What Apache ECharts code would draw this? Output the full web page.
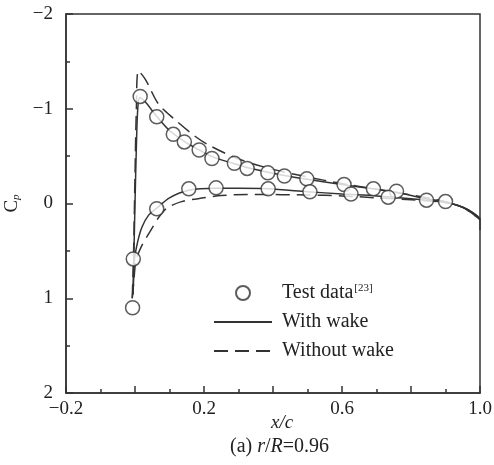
<!DOCTYPE html>
<html>
<head>
    <meta charset="UTF-8">
    <title>Cp distribution r/R=0.96</title>
    <script src="https://cdn.jsdelivr.net/npm/echarts@6/dist/echarts.min.js"></script>
    <style>
        body { margin: 0; background: #fff; }
        #chart { width: 494px; height: 465px; }
    </style>
</head>
<body>
    <div id="chart"></div>
    <script type="text/javascript">
        // test data, [x/c, Cp]
        var testUpper = [
            [0.015, -1.13], [0.063, -0.915], [0.111, -0.73], [0.143, -0.65], [0.186, -0.565],
            [0.223, -0.475], [0.288, -0.425], [0.325, -0.37], [0.385, -0.325], [0.433, -0.29],
            [0.498, -0.26], [0.606, -0.2], [0.691, -0.155], [0.758, -0.13], [0.845, -0.035], [0.9, -0.02]
        ];
        var testLower = [
            [-0.007, 1.1], [-0.005, 0.585], [0.063, 0.055], [0.156, -0.155], [0.235, -0.165],
            [0.386, -0.155], [0.507, -0.123], [0.626, -0.1], [0.734, -0.067]
        ];

        // computed, with wake
        var wakeUpper = [
            [-0.006, 0.96], [-0.003, 0.5], [0.0, 0.0], [0.004, -0.6], [0.008, -1.0], [0.014, -1.12],
            [0.03, -1.07], [0.063, -0.92], [0.1, -0.77], [0.143, -0.655], [0.186, -0.565],
            [0.223, -0.495], [0.288, -0.42], [0.325, -0.38], [0.385, -0.33], [0.433, -0.295],
            [0.5, -0.255], [0.6, -0.2], [0.69, -0.155], [0.76, -0.115], [0.845, -0.05], [0.9, -0.015],
            [0.95, 0.04], [0.98, 0.1], [1.0, 0.17], [1.0, 0.28]
        ];
        var wakeLower = [
            [-0.006, 0.96], [-0.004, 0.8], [-0.002, 0.6], [0.008, 0.4], [0.02, 0.25], [0.04, 0.12],
            [0.063, 0.05], [0.1, -0.06], [0.156, -0.14], [0.235, -0.16], [0.3, -0.16], [0.386, -0.155],
            [0.5, -0.125], [0.6, -0.1], [0.7, -0.08], [0.8, -0.05], [0.9, -0.01], [0.95, 0.04],
            [0.98, 0.1], [1.0, 0.17]
        ];

        // computed, without wake
        var noWakeUpper = [
            [-0.008, 1.0], [-0.004, 0.5], [0.0, -0.3], [0.004, -1.0], [0.01, -1.4], [0.03, -1.31],
            [0.068, -1.05], [0.111, -0.9], [0.174, -0.71], [0.217, -0.61], [0.3, -0.47], [0.4, -0.36],
            [0.5, -0.28], [0.6, -0.21], [0.7, -0.15], [0.8, -0.09], [0.9, -0.02], [0.95, 0.04], [1.0, 0.17]
        ];
        var noWakeLower = [
            [-0.008, 1.0], [-0.004, 0.85], [0.003, 0.6], [0.019, 0.45], [0.043, 0.3], [0.07, 0.14],
            [0.092, 0.05], [0.135, -0.02], [0.2, -0.06], [0.25, -0.085], [0.35, -0.095], [0.5, -0.09],
            [0.6, -0.08], [0.7, -0.06], [0.8, -0.04], [0.9, -0.01], [0.95, 0.04], [1.0, 0.17]
        ];

        var xLabels = [-0.2, 0.2, 0.6, 1.0];

        var ink = '#333';
        var serif = '"Liberation Serif", "Times New Roman", serif';

        var chart = echarts.init(document.getElementById('chart'), null, { renderer: 'canvas' });

        function minus(v) {
            return String(v).replace('-', '\u2212');
        }

        var option = {
            animation: false,
            backgroundColor: '#fff',
            textStyle: { fontFamily: serif, color: ink },
            grid: {
                left: 66, right: 14, top: 14, bottom: 72,
                outerBoundsMode: 'none',
                show: true, borderColor: ink, borderWidth: 1.5
            },
            legend: {
                orient: 'vertical',
                left: 208,
                top: 278,
                itemWidth: 58,
                itemHeight: 14,
                itemGap: 9,
                selectedMode: false,
                data: [
                    'Test data',
                    { name: 'With wake', itemStyle: { opacity: 0 } },
                    { name: 'Without wake', itemStyle: { opacity: 0 } }
                ],
                formatter: function (name) {
                    return name === 'Test data' ? 'Test data{sup|[23]}' : name;
                },
                textStyle: {
                    fontFamily: serif,
                    fontSize: 20,
                    color: '#222',
                    padding: [0, 0, 0, 5],
                    rich: {
                        sup: { fontFamily: serif, fontSize: 11, color: '#222', verticalAlign: 'top', padding: [0, 0, 9, 1] }
                    }
                }
            },
            xAxis: {
                type: 'value',
                min: -0.2,
                max: 1.0,
                interval: 0.2,
                axisLine: { onZero: false, lineStyle: { color: ink, width: 1.5 } },
                axisTick: { inside: true, length: 7, lineStyle: { color: ink, width: 1.5 } },
                minorTick: { show: true, splitNumber: 2, length: 4, lineStyle: { color: ink, width: 1.5 } },
                splitLine: { show: false },
                axisLabel: {
                    margin: 7,
                    fontFamily: serif,
                    fontSize: 19,
                    color: '#222',
                    formatter: function (v) {
                        var r = Math.round(v * 10) / 10;
                        for (var i = 0; i < xLabels.length; i++) {
                            if (Math.abs(xLabels[i] - r) < 1e-6) {
                                return minus(r.toFixed(1));
                            }
                        }
                        return '';
                    }
                }
            },
            yAxis: {
                type: 'value',
                inverse: true,
                min: -2,
                max: 2,
                interval: 1,
                axisLine: { onZero: false, lineStyle: { color: ink, width: 1.5 } },
                axisTick: { inside: true, length: 7, lineStyle: { color: ink, width: 1.5 } },
                minorTick: { show: true, splitNumber: 2, length: 4, lineStyle: { color: ink, width: 1.5 } },
                splitLine: { show: false },
                axisLabel: {
                    margin: 13,
                    fontFamily: serif,
                    fontSize: 19,
                    color: '#222',
                    formatter: function (v) { return minus(v); }
                },
                name: '{c|C}{p|p}',
                nameLocation: 'middle',
                nameRotate: 90,
                nameGap: 35,
                nameTextStyle: {
                    rich: {
                        c: { fontFamily: serif, fontSize: 19, color: '#222' },
                        p: { fontFamily: serif, fontSize: 11, color: '#222', fontStyle: 'italic', verticalAlign: 'bottom', padding: [6, 0, 0, 0] }
                    }
                }
            },
            graphic: [
                {
                    type: 'text',
                    left: 271,
                    top: 413,
                    style: {
                        text: 'x/c',
                        font: 'italic 19px ' + serif,
                        fill: '#222'
                    }
                },
                {
                    type: 'text',
                    left: 230,
                    top: 437,
                    style: {
                        text: '(a) {i|r}/{i|R}=0.96',
                        font: '20px ' + serif,
                        fill: '#222',
                        rich: { i: { fontStyle: 'italic', fontFamily: serif, fontSize: 20, fill: '#222' } }
                    }
                }
            ],
            series: [
                {
                    name: 'With wake', type: 'line', data: wakeUpper, symbol: 'none', smooth: 0.3,
                    lineStyle: { color: ink, width: 1.5 }, itemStyle: { color: ink }, z: 2
                },
                {
                    name: 'With wake', type: 'line', data: wakeLower, symbol: 'none', smooth: 0.3,
                    lineStyle: { color: ink, width: 1.5 }, itemStyle: { color: ink }, z: 2
                },
                {
                    name: 'Without wake', type: 'line', data: noWakeUpper, symbol: 'none', smooth: 0.3,
                    lineStyle: { color: ink, width: 1.5, type: [14, 7] }, itemStyle: { color: ink }, z: 2
                },
                {
                    name: 'Without wake', type: 'line', data: noWakeLower, symbol: 'none', smooth: 0.3,
                    lineStyle: { color: ink, width: 1.5, type: [14, 7] }, itemStyle: { color: ink }, z: 2
                },
                {
                    name: 'Test data', type: 'scatter', data: testUpper, symbol: 'circle', symbolSize: 14,
                    itemStyle: { color: '#fff', borderColor: ink, borderWidth: 1.5 }, z: 3
                },
                {
                    name: 'Test data', type: 'scatter', data: testLower, symbol: 'circle', symbolSize: 14,
                    itemStyle: { color: '#fff', borderColor: ink, borderWidth: 1.5 }, z: 3
                }
            ]
        };

        chart.setOption(option);
    </script>
</body>
</html>
